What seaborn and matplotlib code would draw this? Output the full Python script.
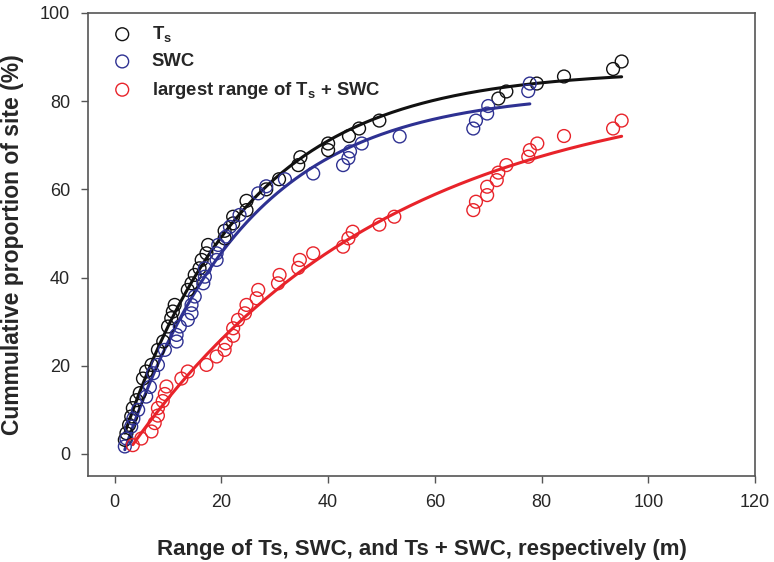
import numpy as np
import pandas as pd
import matplotlib
matplotlib.use("Agg")
import matplotlib.pyplot as plt
import seaborn as sns

# cumulative proportion of sites (%) vs. range (m)
ts_x = [1.9, 2.2, 2.7, 3.1, 3.4, 4.1, 4.7, 5.3, 5.9, 6.9, 8.1, 9.1, 10.0, 10.6, 10.9,
        11.25, 13.7, 14.4, 15.0, 15.9, 16.3, 17.2, 17.5, 20.6, 20.6, 22.2, 22.2, 24.7,
        24.7, 28.4, 30.8, 34.4, 34.8, 40.0, 40.0, 43.9, 45.8, 49.6, 71.9, 73.4, 79.1,
        84.2, 93.4, 95.0]
ts_y = [3.2, 4.7, 6.6, 8.5, 10.4, 12.2, 13.8, 17.1, 18.7, 20.2, 23.6, 25.5, 28.9, 30.8,
        32.3, 33.8, 37.2, 38.7, 40.6, 42.1, 44.0, 45.5, 47.4, 48.9, 50.6, 52.3, 53.8,
        55.3, 57.4, 60.0, 62.3, 65.5, 67.3, 68.9, 70.4, 72.1, 73.8, 75.6, 80.6, 82.2,
        84.0, 85.6, 87.3, 89.0]

swc_x = [1.9, 2.2, 3.1, 3.5, 4.4, 5.9, 6.6, 7.2, 8.1, 9.4, 11.6, 11.6, 12.2, 13.7,
         14.4, 14.4, 15.0, 16.6, 16.9, 16.9, 19.1, 19.1, 19.4, 20.9, 21.6, 23.4, 26.9,
         28.4, 31.9, 37.2, 42.8, 43.8, 44.1, 46.3, 53.4, 67.2, 67.7, 69.8, 70.0, 77.5,
         77.8]
swc_y = [1.7, 3.5, 6.2, 8.0, 10.0, 13.0, 15.2, 18.3, 20.2, 23.6, 25.5, 27.0, 28.9, 30.4,
         31.9, 33.8, 35.7, 38.7, 40.2, 42.1, 44.0, 45.5, 47.4, 49.3, 51.5, 54.2, 59.1,
         60.7, 62.3, 63.6, 65.5, 67.1, 68.6, 70.4, 72.0, 73.8, 75.6, 77.2, 78.9, 82.3,
         84.0]

both_x = [3.4, 5.0, 6.9, 7.5, 8.1, 8.1, 9.0, 9.4, 9.7, 12.5, 13.7, 17.2, 19.1, 20.6,
          20.8, 22.2, 22.2, 23.1, 24.4, 24.7, 26.6, 26.9, 30.6, 30.9, 34.4, 34.7, 37.2,
          42.8, 43.8, 44.6, 49.6, 52.4, 67.2, 67.7, 69.8, 69.8, 71.6, 71.9, 73.4, 77.5,
          77.8, 79.2, 84.2, 93.4, 95.0]
both_y = [2.0, 3.5, 5.1, 7.0, 8.7, 10.4, 12.0, 13.6, 15.3, 17.1, 18.7, 20.2, 22.1, 23.6,
          25.1, 26.8, 28.5, 30.4, 31.9, 33.8, 35.3, 37.2, 38.7, 40.6, 42.2, 44.0, 45.5,
          47.0, 48.9, 50.4, 52.0, 53.8, 55.3, 57.2, 58.7, 60.6, 62.1, 63.8, 65.5, 67.4,
          68.9, 70.4, 72.1, 73.8, 75.6]

series = [("$\\mathbf{T_s}$", ts_x, ts_y, "#111111"),
          ("SWC", swc_x, swc_y, "#2e3192"),
          ("largest range of $\\mathbf{T_s}$ + SWC", both_x, both_y, "#e8232a")]


def fit_rise(x, y):
    # y = y0 + a * (1 - exp(-b x)), b by grid search, y0/a by least squares
    x = np.asarray(x, float)
    y = np.asarray(y, float)
    best = None
    for b in np.linspace(0.002, 0.2, 3000):
        A = np.column_stack([np.ones_like(x), 1 - np.exp(-b * x)])
        coef, res, _, _ = np.linalg.lstsq(A, y, rcond=None)
        err = np.sum((A @ coef - y) ** 2)
        if best is None or err < best[0]:
            best = (err, b, coef)
    _, b, (y0, a) = best
    xs = np.linspace(x.min(), x.max(), 200)
    return xs, y0 + a * (1 - np.exp(-b * xs))


sns.set_style("white")
plt.rcParams["font.family"] = ["Liberation Sans", "DejaVu Sans"]
plt.rcParams["mathtext.fontset"] = "custom"
plt.rcParams["mathtext.bf"] = "Liberation Sans:bold"
plt.rcParams["mathtext.rm"] = "Liberation Sans"

fig, ax = plt.subplots(figsize=(7.74, 5.62), dpi=100)
fig.subplots_adjust(left=0.1137, right=0.9755, top=0.9769, bottom=0.153)

for label, xv, yv, col in series:
    df = pd.DataFrame({"x": xv, "y": yv})
    sns.scatterplot(data=df, x="x", y="y", ax=ax, marker="o", s=85,
                    facecolors="none", edgecolor=col, linewidth=1.0, label=label,
                    zorder=3)
    xs, ys = fit_rise(xv, yv)
    sns.lineplot(x=xs, y=ys, ax=ax, color=col, linewidth=2.2, zorder=2)

ax.set_xlim(-5, 120)
ax.set_ylim(-5, 100)
ax.set_xticks(range(0, 121, 20))
ax.set_yticks(range(0, 101, 20))
ax.set_xlabel("Range of Ts, SWC, and Ts + SWC, respectively (m)",
              fontsize=16, fontweight="bold", labelpad=20)
ax.set_ylabel("Cummulative proportion of site (%)",
              fontsize=16.5, fontweight="bold", labelpad=11)
ax.tick_params(axis="both", direction="out", length=5, width=1, color="#555555",
               labelsize=13, pad=8, bottom=True, left=True)
for sp in ax.spines.values():
    sp.set_color("#555555")
    sp.set_linewidth(1.2)

leg = ax.legend(loc="upper left", bbox_to_anchor=(0.007, 1.0), frameon=False,
                fontsize=13.3, handletextpad=0.6, borderaxespad=0.2,
                labelspacing=0.5)
for t in leg.get_texts():
    t.set_fontweight("bold")

fig.savefig("out.png", dpi=100)
